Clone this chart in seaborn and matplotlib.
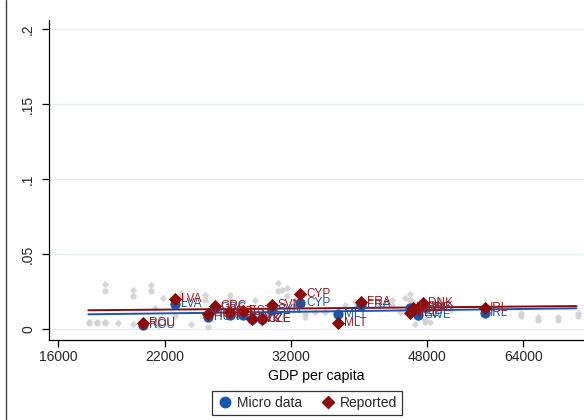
import numpy as np
import pandas as pd
import matplotlib
matplotlib.use("Agg")
import matplotlib.pyplot as plt
import seaborn as sns
from matplotlib.lines import Line2D
from matplotlib.ticker import FixedLocator, NullLocator, FixedFormatter

# ---------------- data ----------------
codes = ["ROU", "LVA", "GRC", "HUN", "POL", "EST", "SVK", "CZE", "SVN",
         "CYP", "MLT", "FRA", "BEL", "SWE", "NLD", "DNK", "IRL"]
gdp = [20600, 22670, 25540, 25010, 26710, 27770, 28540, 29390, 30280,
       32920, 36880, 39500, 45720, 46820, 46130, 47390, 57010]
reported = [0.0040, 0.0202, 0.0155, 0.0102, 0.0117, 0.0124, 0.0067, 0.0067, 0.0162,
            0.0235, 0.0044, 0.0184, 0.0107, 0.0140, 0.0140, 0.0173, 0.0140]
micro = [0.0032, 0.0167, 0.0142, 0.0082, 0.0095, 0.0095, 0.0070, 0.0070, 0.0129,
         0.0173, 0.0100, 0.0162, 0.0140, 0.0095, 0.0120, 0.0150, 0.0107]

grey_d_gdp = [17540, 17960, 18390, 18390, 19120, 20000, 20000, 21100, 21870, 21350,
              21550, 23080, 22670, 23780, 24790, 25010, 26710, 27520, 28790, 29220,
              30830, 31200, 31670, 32430, 33420, 34430, 35470, 37650, 38800, 41800,
              43320, 44370, 45040, 45720, 46130, 46820, 47810, 48530, 46400, 50000,
              51520, 63480, 66790, 70900, 75260]
grey_d_val = [0.0049, 0.0049, 0.0049, 0.0302, 0.0042, 0.0262, 0.0035, 0.0295, 0.0209, 0.0142,
              0.0035, 0.0242, 0.0089, 0.0035, 0.0229, 0.0089, 0.0229, 0.0162, 0.0195, 0.0089,
              0.0309, 0.0262, 0.0275, 0.0195, 0.0109, 0.0115, 0.0115, 0.0162, 0.0182, 0.0162,
              0.0195, 0.0115, 0.0209, 0.0235, 0.0182, 0.0075, 0.0062, 0.0049, 0.0035, 0.0195,
              0.0129, 0.0109, 0.0082, 0.0082, 0.0109]
grey_c_gdp = [17540, 17960, 18390, 18390, 20000, 21100, 21550, 23080, 24790, 25010,
              26710, 28540, 30830, 31670, 33420, 36880, 38800, 43320, 45720, 47810,
              50000, 63480, 66790, 70900, 75260]
grey_c_val = [0.0040, 0.0040, 0.0040, 0.0255, 0.0222, 0.0255, 0.0029, 0.0209, 0.0195, 0.0015,
              0.0195, 0.0142, 0.0255, 0.0222, 0.0082, 0.0109, 0.0142, 0.0162, 0.0195, 0.0049,
              0.0162, 0.0089, 0.0062, 0.0062, 0.0089]

fit_gdp = [17500, 75000]
fit_reported = [0.0127, 0.0155]
fit_micro = [0.0100, 0.0140]

x_ticks = [16000, 22000, 32000, 48000, 64000]
x_tick_labels = ["16000", "22000", "32000", "48000", "64000"]
y_ticks = [0, 0.05, 0.1, 0.15, 0.2]
y_tick_labels = ["0", ".05", ".1", ".15", ".2"]

BLUE = "#1a56b0"
RED = "#8b0a0a"
RED_TXT = "#a01818"
GREY = "#d2d2d2"

# ---------------- plot ----------------
sns.set_theme(style="white")
plt.rcParams['font.family'] = ['Liberation Sans', 'DejaVu Sans']

fig = plt.figure(figsize=(5.84, 4.20), dpi=100)
ax = fig.add_axes([49 / 584, 80 / 420, 535 / 584, 320 / 420])
ax.set_xscale('log')

sns.scatterplot(x=grey_d_gdp, y=grey_d_val, marker='D', s=14, color=GREY,
                linewidth=0, alpha=0.9, ax=ax, zorder=2)
sns.scatterplot(x=grey_c_gdp, y=grey_c_val, marker='o', s=20, color=GREY,
                linewidth=0, alpha=0.9, ax=ax, zorder=2)

sns.lineplot(x=fit_gdp, y=fit_reported, color=RED, lw=1.4, ax=ax, zorder=3)
sns.lineplot(x=fit_gdp, y=fit_micro, color=BLUE, lw=1.4, ax=ax, zorder=3)

sns.scatterplot(x=gdp, y=micro, marker='o', s=55, color=BLUE, linewidth=0,
                ax=ax, zorder=4)
for c, xv, yv in zip(codes, gdp, micro):
    ax.annotate(c, (xv, yv), xytext=(4, 0), textcoords='offset points',
                va='center', ha='left', fontsize=8.5, color=BLUE, zorder=4)
sns.scatterplot(x=gdp, y=reported, marker='D', s=46, color=RED, linewidth=0,
                ax=ax, zorder=5)
for c, xv, yv in zip(codes, gdp, reported):
    ax.annotate(c, (xv, yv), xytext=(4, 0), textcoords='offset points',
                va='center', ha='left', fontsize=8.5, color=RED_TXT, zorder=5)

ax.set_xlim(15560, 76700)
ax.set_ylim(-0.00713, 0.2062)

ax.xaxis.set_major_locator(FixedLocator(x_ticks))
ax.xaxis.set_major_formatter(FixedFormatter(x_tick_labels))
ax.xaxis.set_minor_locator(NullLocator())
ax.set_yticks(y_ticks)
ax.set_yticklabels(y_tick_labels, rotation=90, va='center')

ax.grid(False)
for yv in y_ticks:
    ax.axhline(yv, color='#e6eef0', lw=1.0, zorder=0)

for s in ['top', 'right']:
    ax.spines[s].set_visible(False)
for s in ['left', 'bottom']:
    ax.spines[s].set_color('black')
    ax.spines[s].set_linewidth(0.9)

ax.tick_params(axis='x', which='major', direction='out', length=5, width=0.9,
               color='black', labelsize=10, pad=2, bottom=True)
ax.tick_params(axis='y', which='major', direction='out', length=5, width=0.9,
               color='black', labelsize=10, pad=5, left=True)

ax.set_xlabel("GDP per capita", fontsize=10.2, labelpad=4, color='black')
ax.set_ylabel("")

handles = [Line2D([], [], marker='o', color=BLUE, linestyle='none', markersize=7.5),
           Line2D([], [], marker='D', color=RED, linestyle='none', markersize=6.5)]
leg = fig.legend(handles, ["Micro data", "Reported"], loc='center',
                 bbox_to_anchor=(307 / 584, (420 - 403) / 420), ncol=2, fontsize=10,
                 frameon=True, fancybox=False, edgecolor='black',
                 handletextpad=0.3, columnspacing=1.2, borderpad=0.35,
                 handlelength=1.2)
leg.get_frame().set_linewidth(0.9)

fig.add_artist(Line2D([5.5 / 584, 5.5 / 584], [0, 1], transform=fig.transFigure,
                      color='#404040', lw=1.0))

fig.savefig("out.png", dpi=100)
